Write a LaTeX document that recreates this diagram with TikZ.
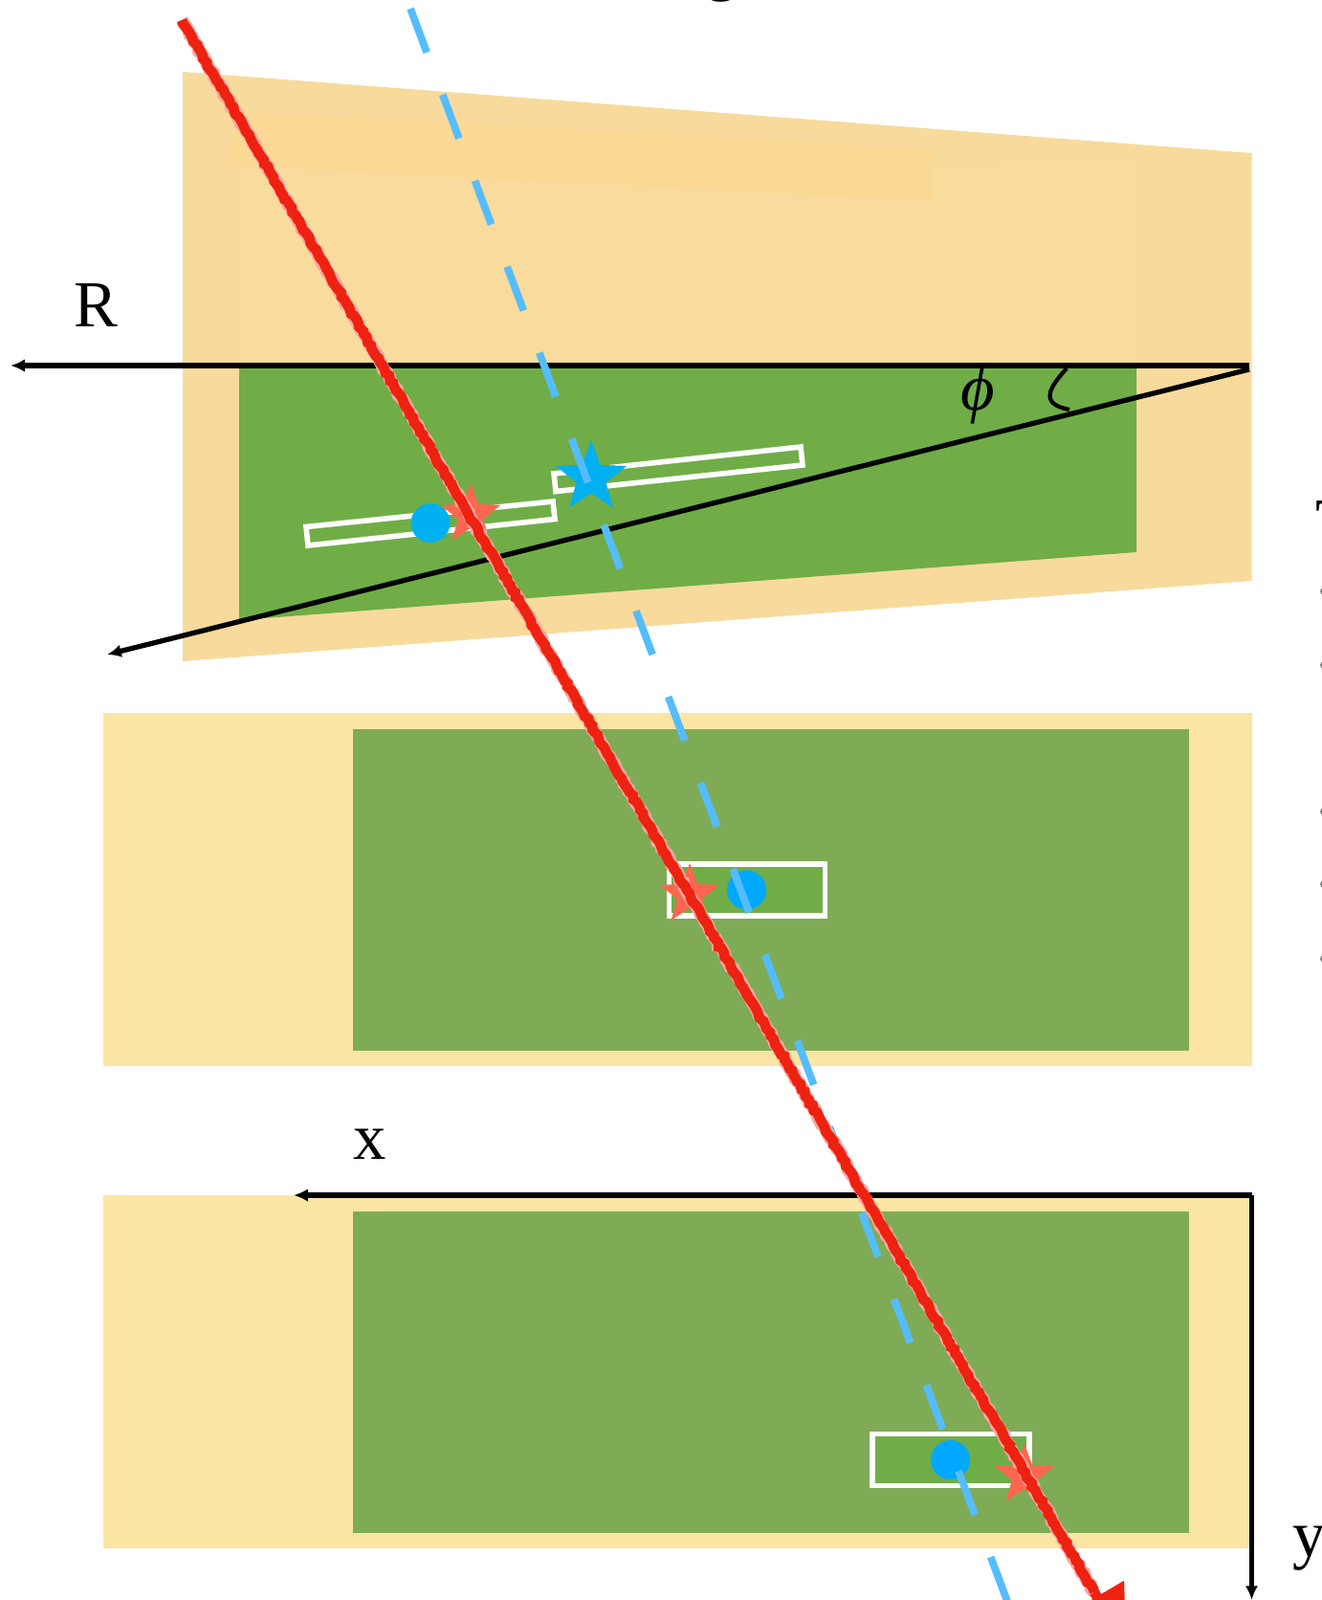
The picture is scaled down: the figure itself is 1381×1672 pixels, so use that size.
\documentclass[tikz,border=0pt]{standalone}
\usepackage{amsmath}
\usepackage{fontspec}
\setmainfont{Liberation Serif}
\usetikzlibrary{arrows.meta,shapes.geometric,decorations.pathmorphing}

\definecolor{trapfill}{HTML}{F8DA9C}
\definecolor{trapghost}{HTML}{F8DB9D}
\definecolor{trapstripe}{HTML}{FBD995}
\definecolor{chipgreen}{HTML}{70AD47}
\definecolor{panelyellow}{HTML}{FBE5A3}
\definecolor{panelgreen}{HTML}{7FAB56}
\definecolor{hitblue}{HTML}{00A8FF}
\definecolor{topblue}{HTML}{00B0F0}
\definecolor{dashblue}{HTML}{55BDFF}
\definecolor{hitred}{HTML}{FF6650}
\definecolor{rayred}{HTML}{EE2211}

\begin{document}
\begin{tikzpicture}[>=Latex,x=0.01cm,y=-0.01cm]
  \tikzset{
    axis/.style={-{Latex[length=4.2pt,width=3.8pt]},line width=1.5pt,black},
    chip/.style={draw=white,line width=1.6pt,fill=chipgreen},
    ring/.style={draw=white,line width=1.6pt},
    dot/.style={circle,inner sep=0pt,minimum size=0.41cm,fill=hitblue},
    hit/.style={star,star points=5,star point ratio=2.4,inner sep=0pt,
      minimum size=0.66cm,fill=hitred},
    rayglow/.style={line width=3.8pt,rayred!40,decorate,
      decoration={random steps,segment length=1.2pt,amplitude=0.35pt}},
    ray/.style={line width=3pt,rayred,decorate,
      decoration={random steps,segment length=1.2pt,amplitude=0.35pt}},
    rayhead/.style={-{Triangle[length=17pt,width=18pt]},line width=3pt,rayred},
    dashray/.style={line width=2.2pt,dashblue,dash pattern=on 13.9pt off 13.4pt},
    tag/.style={font=\fontsize{19.5}{20}\selectfont,inner sep=0pt}
  }
  \useasboundingbox (0,0) rectangle (1381,1672);

  % tilted sheet
  \fill[trapfill] (191,75) -- (1308.5,160) -- (1308.5,607) -- (191,691) -- cycle;
  \fill[trapghost] (250,178) -- (1188,170) -- (1188,385) -- (250,385) -- cycle;
  \fill[trapstripe] (253,116) -- (974,155) -- (974,210) -- (237,173) -- cycle;
  \fill[chipgreen] (250,385) -- (1188,385) -- (1188,577) -- (250,648) -- cycle;
  \draw[ring] (320,550.5) -- (578,524) -- (580,542.5) -- (322,570) -- cycle;
  \draw[ring] (579,495) -- (837,467) -- (839,486) -- (581,513.5) -- cycle;

  % middle panel
  \fill[panelyellow] (108,745) rectangle (1308.5,1114);
  \fill[panelgreen] (369,762) rectangle (1243,1098);
  \draw[chip] (699.5,903) rectangle (862.5,957);

  % bottom panel
  \fill[panelyellow] (108,1249) rectangle (1308.5,1618);
  \fill[panelgreen] (369,1266) rectangle (1243,1602);
  \draw[chip] (912,1498.5) rectangle (1076,1552.5);

  % axes
  \coordinate (origin) at (1306,382);
  \coordinate (originb) at (1306,386);
  \coordinate (rend) at (11,382);
  \coordinate (send) at (112,684);
  \coordinate (corner) at (1308.5,1249);
  \coordinate (xend) at (307,1249);
  \coordinate (yend) at (1308.5,1672);
  \draw[axis] (origin) -- (rend);
  \draw[axis] (originb) -- (send);
  \draw[axis] (corner) -- (xend);
  \draw[axis] (corner) -- (yend);
  \coordinate (arcA) at (1115,385);
  \coordinate (arcB) at (1118,428);
  \draw[line width=1.2pt] (arcA) .. controls (1098,404) and (1085,422) .. (arcB);
  \node[tag] (rlabel) at (100,319) {R};
  \node[tag] (philabel) at (1022,412) {\itshape ϕ};
  \node[tag] (xlabel) at (387,1196) {x};
  \node[tag] (ylabel) at (1369,1618) {y};

  % hits
  \node[hit,fill=topblue,minimum size=0.78cm] (stara) at (618,499) {};
  \node[dot,fill=topblue] (dota) at (450,546.5) {};
  \node[hit] (redstara) at (492,538) {};
  \node[dot] (dotb) at (780.5,930) {};
  \node[hit] (redstarb) at (721,935) {};
  \node[dot] (dotc) at (993.5,1525.5) {};
  \node[hit] (redstarc) at (1071,1542) {};

  % tracks
  \coordinate (blueA) at (429,9);
  \coordinate (blueB) at (1060,1692);
  \draw[dashray] (blueA) -- (blueB);
  \coordinate (redA) at (190,21);
  \coordinate (redB) at (1144,1664);
  \coordinate (redC) at (1177,1720);
  \draw[rayglow] (redA) -- (redB);
  \draw[ray] (redA) -- (redB);
  \draw[rayhead] (redB) -- (redC);

  % cut off at the page edge
  \node[tag,anchor=south] (topcut) at (755,3) {g};
  \node[tag,anchor=north west] (rightcut) at (1375,523) {T};
  \foreach \rowy in {618,695,848,924,1002}
    \fill[gray] (1384,\rowy) circle (4);
\end{tikzpicture}
\end{document}
